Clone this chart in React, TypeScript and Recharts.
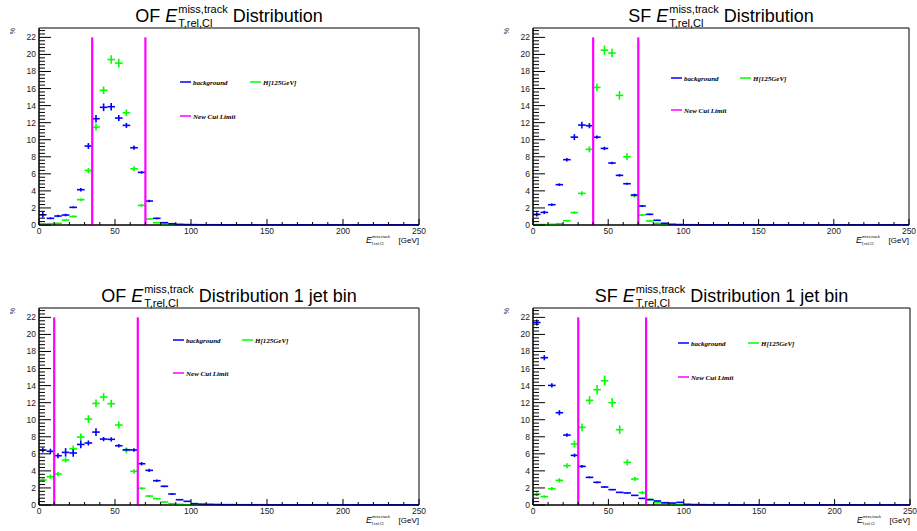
import React from 'react';
import { ScatterChart, Scatter, XAxis, YAxis, ErrorBar, ReferenceLine, ReferenceArea } from 'recharts';

// bin centres, 5 GeV bins from 0 to 250
const binCenters = [
  2.5, 7.5, 12.5, 17.5, 22.5, 27.5, 32.5, 37.5, 42.5, 47.5,
  52.5, 57.5, 62.5, 67.5, 72.5, 77.5, 82.5, 87.5, 92.5, 97.5,
  102.5, 107.5, 112.5, 117.5, 122.5, 127.5, 132.5, 137.5, 142.5, 147.5,
  152.5, 157.5, 162.5, 167.5, 172.5, 177.5, 182.5, 187.5, 192.5, 197.5,
  202.5, 207.5, 212.5, 217.5, 222.5, 227.5, 232.5, 237.5, 242.5, 247.5,
];
const halfBin = 2.5;

const xTickLabels = [0, 50, 100, 150, 200, 250];
const yTickLabels = [0, 2, 4, 6, 8, 10, 12, 14, 16, 18, 20, 22];
const yMax = 23.1;

// OF, inclusive
const ofBg = [
  1.2, 0.78, 1.05, 1.17, 2.07, 4.14, 9.26, 12.46, 13.8, 13.87,
  12.54, 11.68, 9.06, 6.17, 2.81, 0.78, 0.27, 0.15, 0.08, 0.05,
  0.04, 0.03, 0.03, 0.03, 0.02, 0.02, 0.02, 0.02, 0.02, 0.02,
  0.02, 0.02, 0.02, 0.02, 0.02, 0.02, 0.02, 0.02, 0.02, 0.02,
  0.02, 0.02, 0.02, 0.02, 0.02, 0.02, 0.02, 0.02, 0.02, 0.02,
];
const ofBgErr = [0.35, 0.1, 0.15, 0.15, 0.1, 0.2, 0.35, 0.45, 0.45, 0.45, 0.35, 0.3, 0.25, 0.15, 0.15, 0.1, 0.05, 0.03];
const ofSig = [
  0.15, 0.15, 0.2, 0.58, 1.0, 2.97, 6.4, 11.48, 15.8, 19.4,
  18.98, 13.16, 6.6, 2.3, 0.7, 0.27, 0.1, 0.05, null, null,
  null, null, null, 0.02, null, null, null, null, null, null,
  null, null, null, null, null, null, null, null, null, null,
  0.02, null, null, 0.02, null, null, null, null, null, null,
];
const ofSigErr = [0.05, 0.05, 0.05, 0.1, 0.1, 0.15, 0.3, 0.4, 0.45, 0.5, 0.5, 0.4, 0.3, 0.15, 0.1, 0.05];
const ofCuts = [35, 70];

// SF, inclusive
const sfBg = [
  1.25, 1.48, 2.38, 4.73, 7.66, 10.3, 11.72, 11.64, 10.3, 8.98,
  7.27, 5.82, 4.84, 3.52, 2.23, 1.25, 0.55, 0.2, 0.08, 0.05,
  0.03, 0.03, 0.02, 0.02, 0.02, 0.02, 0.02, 0.02, 0.02, 0.02,
  0.02, 0.02, 0.02, 0.02, 0.02, 0.02, 0.02, 0.02, 0.02, 0.02,
  0.02, 0.02, 0.02, 0.02, 0.02, 0.02, 0.02, 0.02, 0.02, 0.02,
];
const sfBgErr = [0.25, 0.2, 0.15, 0.15, 0.2, 0.35, 0.4, 0.3, 0.2, 0.2, 0.15, 0.15, 0.12, 0.15, 0.12, 0.1, 0.08, 0.05];
const sfSig = [
  0.05, 0.05, 0.08, 0.15, 0.5, 1.45, 3.71, 8.87, 16.13, 20.5,
  20.16, 15.2, 8.0, 3.44, 1.17, 0.47, 0.2, 0.08, 0.04, null,
  null, null, null, null, 0.02, null, 0.02, null, null, null,
  null, null, null, null, null, null, null, null, null, null,
  null, 0.02, null, null, null, null, null, null, null, null,
];
const sfSigErr = [0.02, 0.02, 0.03, 0.05, 0.1, 0.15, 0.25, 0.35, 0.45, 0.55, 0.5, 0.5, 0.4, 0.2, 0.12, 0.08, 0.05];
const sfCuts = [40, 70];

// OF, 1 jet bin
const of1jBg = [
  6.45, 6.3, 5.78, 6.17, 6.1, 7.1, 7.27, 8.55, 7.73, 7.7,
  6.95, 6.48, 6.45, 4.84, 4.06, 2.85, 2.19, 1.29, 0.62, 0.43,
  0.16, 0.1, 0.08, 0.06, 0.04, 0.04, 0.03, 0.03, 0.03, 0.03,
  0.02, 0.02, 0.02, 0.02, 0.02, 0.02, 0.02, 0.02, 0.02, 0.02,
  0.02, 0.02, 0.02, 0.02, 0.02, 0.02, 0.02, 0.02, 0.02, 0.02,
];
const of1jBgErr = [0.3, 0.3, 0.3, 0.5, 0.45, 0.45, 0.3, 0.45, 0.25, 0.25, 0.2, 0.15, 0.2, 0.2, 0.2, 0.15, 0.1, 0.1, 0.08, 0.05, 0.05];
const of1jSig = [
  2.93, 3.32, 3.63, 5.27, 6.6, 7.97, 10.08, 11.91, 12.66, 11.88,
  9.38, 6.4, 3.95, 1.95, 1.05, 0.74, 0.35, 0.15, 0.08, 0.04,
  0.02, null, null, null, null, null, null, null, null, null,
  null, null, null, null, null, null, null, null, null, null,
  null, null, null, null, null, null, null, null, null, null,
];
const of1jSigErr = [0.2, 0.25, 0.25, 0.3, 0.35, 0.4, 0.45, 0.45, 0.45, 0.45, 0.4, 0.35, 0.25, 0.15, 0.1, 0.1, 0.05];
const of1jCuts = [10, 65];

// SF, 1 jet bin
const sf1jBg = [
  21.4, 17.27, 14.02, 10.82, 8.2, 5.82, 4.53, 3.24, 2.66, 2.11,
  1.8, 1.48, 1.41, 1.13, 0.78, 0.62, 0.47, 0.27, 0.23, 0.31,
  0.08, 0.05, 0.04, 0.03, 0.03, 0.03, 0.02, 0.02, 0.02, 0.02,
  0.02, 0.02, 0.02, 0.02, 0.02, 0.02, 0.02, 0.02, 0.02, 0.02,
  0.02, 0.02, 0.02, 0.02, 0.02, 0.02, 0.02, 0.02, 0.02, 0.02,
];
const sf1jBgErr = [0.35, 0.3, 0.25, 0.3, 0.2, 0.2, 0.15, 0.1, 0.1, 0.08, 0.08, 0.06, 0.06, 0.05, 0.05, 0.04, 0.04, 0.03, 0.03, 0.05];
const sf1jSig = [
  1.29, 0.98, 1.91, 2.89, 4.61, 7.15, 9.1, 12.27, 13.52, 14.57,
  12.0, 8.83, 5.0, 3.05, 1.45, 0.66, 0.27, 0.15, 0.1, 0.05,
  0.02, null, null, null, null, null, null, null, null, null,
  null, null, null, null, null, null, null, null, null, null,
  null, null, null, null, null, null, 0.02, null, null, null,
];
const sf1jSigErr = [0.25, 0.15, 0.2, 0.25, 0.3, 0.4, 0.45, 0.5, 0.55, 0.6, 0.55, 0.5, 0.35, 0.25, 0.2, 0.1, 0.05];
const sf1jCuts = [30, 75];

const BLUE = '#0000ff';
const GREEN = '#00ff00';
const MAGENTA = '#ff00ff';
const SANS = '"Liberation Sans", Arial, sans-serif';
const SERIF = '"Liberation Serif", "Times New Roman", serif';

const W = 432;
const H = 250;
const PLOT_LEFT = 39;
const PLOT_TOP = 28;
const AXIS_Y = 225;

const xTicks = xTickLabels.flatMap((v) => (v < 250 ? [v, v + 10, v + 20, v + 30, v + 40] : [v]));
const yTicks = yTickLabels
  .flatMap((v) => [v, v + 0.4, v + 0.8, v + 1.2, v + 1.6])
  .filter((v) => v < yMax);

const toPoints = (vals: (number | null)[], errs: number[]) =>
  vals
    .map((v, i) => ({ x: binCenters[i], y: v, ex: halfBin, ey: errs[i] ?? 0 }))
    .filter((p) => p.y !== null);

const renderXTick = (props: any) => {
  const { x, y, payload } = props;
  const major = xTickLabels.includes(payload.value);
  return (
    <g>
      <line x1={x} x2={x} y1={y} y2={y - (major ? 6 : 3)} stroke="#000" strokeWidth={1} />
      {major && (
        <text x={x} y={y + 9} textAnchor="middle" fontSize={8.5} fontFamily={SANS} fill="#222">
          {payload.value}
        </text>
      )}
    </g>
  );
};

const renderYTick = (props: any) => {
  const { x, y, payload } = props;
  const major = yTickLabels.includes(payload.value);
  return (
    <g>
      <line x1={x} x2={x + (major ? 12 : 6)} y1={y} y2={y} stroke="#000" strokeWidth={1} />
      {major && (
        <text x={x - 3} y={y + 3} textAnchor="end" fontSize={8.5} fontFamily={SANS} fill="#222">
          {payload.value}
        </text>
      )}
    </g>
  );
};

const noMarker = () => <g />;

interface PanelProps {
  prefix: string;
  suffix: string;
  left: number;
  top: number;
  plotRight: number;
  bg: (number | null)[];
  bgErr: number[];
  sig: (number | null)[];
  sigErr: number[];
  cuts: number[];
  legend: { lx: number; gx: number; y1: number; y2: number };
}

const Title = ({ prefix, suffix, width }: { prefix: string; suffix: string; width: number }) => (
  <div
    style={{
      position: 'absolute',
      left: PLOT_LEFT,
      width,
      top: 0,
      display: 'flex',
      justifyContent: 'center',
      alignItems: 'flex-start',
      fontFamily: SANS,
      fontSize: 18,
      lineHeight: '18px',
      whiteSpace: 'pre',
      color: '#000',
    }}
  >
    <span style={{ marginTop: 6.5 }}>{prefix} </span>
    <span style={{ marginTop: 6.5, fontStyle: 'italic' }}>E</span>
    <span style={{ marginTop: 1.9, marginLeft: 1, display: 'flex', flexDirection: 'column', fontSize: 11, lineHeight: '14px' }}>
      <span>miss,track</span>
      <span>T,rel,Cl</span>
    </span>
    <span style={{ marginTop: 6.5 }}> {suffix}</span>
  </div>
);

const Panel = (p: PanelProps) => {
  const plotRight = p.plotRight;
  const sigPts = toPoints(p.sig, p.sigErr);
  const bgPts = toPoints(p.bg, p.bgErr);
  const { lx, gx, y1, y2 } = p.legend;
  const legendText = { fontSize: 7, fontFamily: SERIF, fontStyle: 'italic' as const, fontWeight: 700, fill: '#000' };

  return (
    <div style={{ position: 'absolute', left: p.left, top: p.top, width: W, height: 251 }}>
      <ScatterChart width={W} height={H} margin={{ top: PLOT_TOP, right: W - plotRight, bottom: 0, left: 0 }}>
        <XAxis
          type="number"
          dataKey="x"
          domain={[0, 250]}
          ticks={xTicks}
          interval={0}
          tick={renderXTick}
          tickLine={false}
          tickSize={0}
          tickMargin={0}
          height={H - AXIS_Y}
          axisLine={{ stroke: '#000' }}
          allowDataOverflow
        />
        <YAxis
          type="number"
          dataKey="y"
          domain={[0, yMax]}
          ticks={yTicks}
          interval={0}
          tick={renderYTick}
          tickLine={false}
          tickSize={0}
          tickMargin={0}
          width={PLOT_LEFT}
          axisLine={{ stroke: '#000' }}
          allowDataOverflow
        />
        <ReferenceArea x1={0} x2={250} y1={0} y2={yMax} fill="none" stroke="#000" strokeWidth={1} />
        <Scatter data={sigPts} shape={noMarker} isAnimationActive={false}>
          <ErrorBar dataKey="ex" direction="x" width={0} stroke={GREEN} strokeWidth={1.6} />
          <ErrorBar dataKey="ey" direction="y" width={0} stroke={GREEN} strokeWidth={1.6} />
        </Scatter>
        <Scatter data={bgPts} shape={noMarker} isAnimationActive={false}>
          <ErrorBar dataKey="ex" direction="x" width={0} stroke={BLUE} strokeWidth={1.6} />
          <ErrorBar dataKey="ey" direction="y" width={0} stroke={BLUE} strokeWidth={1.6} />
        </Scatter>
        {p.cuts.map((c) => (
          <ReferenceLine
            key={c}
            segment={[{ x: c, y: 0 }, { x: c, y: 22 }]}
            stroke={MAGENTA}
            strokeWidth={2.2}
          />
        ))}
      </ScatterChart>
      <Title prefix={p.prefix} suffix={p.suffix} width={plotRight - PLOT_LEFT} />
      <svg
        width={W}
        height={251}
        style={{ position: 'absolute', left: 0, top: 0, pointerEvents: 'none', overflow: 'visible' }}
      >
        <text x={12} y={31} transform="rotate(-90 12 31)" textAnchor="middle" dominantBaseline="central" fontSize={7} fontFamily={SANS} fill="#333">
          %
        </text>
        <line x1={lx} x2={lx + 11} y1={y1} y2={y1} stroke={BLUE} strokeWidth={1.5} />
        <text x={lx + 13} y={y1 + 2.5} {...legendText}>background</text>
        <line x1={gx} x2={gx + 11} y1={y1} y2={y1} stroke={GREEN} strokeWidth={1.5} />
        <text x={gx + 13} y={y1 + 2.5} {...legendText}>H[125GeV]</text>
        <line x1={lx} x2={lx + 11} y1={y2} y2={y2} stroke={MAGENTA} strokeWidth={1.5} />
        <text x={lx + 13} y={y2 + 2.5} {...legendText}>New Cut Limit</text>

        <text x={plotRight - 53} y={AXIS_Y + 18} fontSize={8.5} fontStyle="italic" fontFamily={SANS} fill="#000">E</text>
        <text x={plotRight - 47} y={AXIS_Y + 13} fontSize={4} fontFamily={SANS} fill="#000">miss,track</text>
        <text x={plotRight - 48} y={AXIS_Y + 20} fontSize={4} fontFamily={SANS} fill="#000">T,rel,Cl</text>
        <text x={plotRight} y={AXIS_Y + 17.5} textAnchor="end" fontSize={8} fontFamily={SANS} fill="#000">[GeV]</text>
      </svg>
    </div>
  );
};

const panels: PanelProps[] = [
  {
    prefix: 'OF', suffix: 'Distribution', left: 0, top: 0, plotRight: 419,
    bg: ofBg, bgErr: ofBgErr, sig: ofSig, sigErr: ofSigErr, cuts: ofCuts,
    legend: { lx: 180, gx: 250, y1: 82, y2: 116 },
  },
  {
    prefix: 'SF', suffix: 'Distribution', left: 494, top: 0, plotRight: 415,
    bg: sfBg, bgErr: sfBgErr, sig: sfSig, sigErr: sfSigErr, cuts: sfCuts,
    legend: { lx: 177, gx: 246, y1: 78, y2: 110 },
  },
  {
    prefix: 'OF', suffix: 'Distribution 1 jet bin', left: 0, top: 280, plotRight: 419,
    bg: of1jBg, bgErr: of1jBgErr, sig: of1jSig, sigErr: of1jSigErr, cuts: of1jCuts,
    legend: { lx: 173, gx: 242, y1: 60, y2: 93 },
  },
  {
    prefix: 'SF', suffix: 'Distribution 1 jet bin', left: 494, top: 280, plotRight: 416,
    bg: sf1jBg, bgErr: sf1jBgErr, sig: sf1jSig, sigErr: sf1jSigErr, cuts: sf1jCuts,
    legend: { lx: 184, gx: 254, y1: 63, y2: 97 },
  },
];

export default function App() {
  return (
    <div style={{ position: 'absolute', left: 0, top: 0, width: 917, height: 531, background: '#fff', overflow: 'hidden' }}>
      {panels.map((p, i) => (
        <Panel key={i} {...p} />
      ))}
    </div>
  );
}
